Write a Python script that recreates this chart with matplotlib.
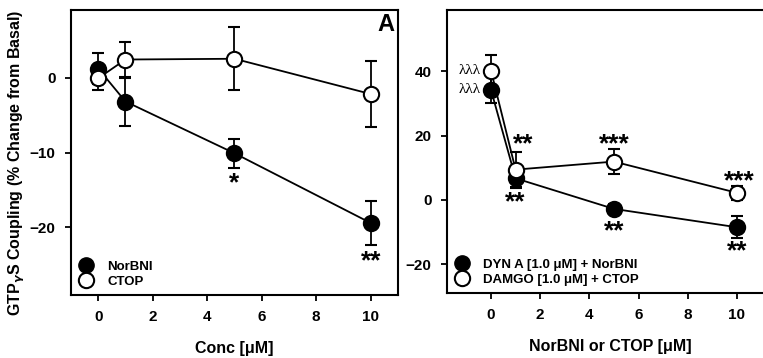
import matplotlib.pyplot as plt

plt.rcParams["font.family"] = ["Liberation Sans", "DejaVu Sans"]
plt.rcParams["font.weight"] = "bold"

# panel A
conc_a = [0, 1, 5, 10]
norbni_y = [1.2, -3.2, -10.1, -19.4]
norbni_err = [2.1, 3.2, 1.9, 2.9]
ctop_y = [-0.1, 2.4, 2.5, -2.2]
ctop_err = [1.6, 2.3, 4.2, 4.4]
stars_a = [(5, "*", -13.9), (10, "**", -24.2)]

# panel B
conc_b = [0, 1, 5, 10]
dyn_y = [34.2, 6.7, -2.8, -8.5]
dyn_err = [4.2, 2.7, 1.5, 3.5]
damgo_y = [40.2, 9.4, 11.9, 2.2]
damgo_err = [4.9, 5.6, 4.0, 2.2]
stars_b = [(1.3, "**", 17.9), (1, "**", 0.0), (5, "***", 17.9), (5, "**", -9.0),
           (10.1, "***", 6.5), (10, "**", -15.2)]

fig = plt.figure(figsize=(7.63, 3.58), dpi=100)
ax_a = fig.add_axes([0.093, 0.176, 0.4286, 0.796])
ax_b = fig.add_axes([0.5855, 0.181, 0.4286, 0.791])


def style(ax):
    for s in ax.spines.values():
        s.set_linewidth(1.5)
    ax.tick_params(direction="out", length=4, width=1.3, labelsize=11, pad=7)
    ax.tick_params(axis="x", top=False)
    ax.tick_params(axis="y", right=False)


def draw(ax, x, y1, e1, y2, e2):
    ax.errorbar(x, y1, yerr=e1, fmt="o-", color="black", mfc="black", mec="black",
                ms=11, mew=1.5, lw=1.3, elinewidth=1.3, capsize=4, capthick=1.3, zorder=3)
    ax.errorbar(x, y2, yerr=e2, fmt="o-", color="black", mfc="white", mec="black",
                ms=11, mew=1.5, lw=1.3, elinewidth=1.3, capsize=4, capthick=1.3, zorder=4)


def stars(ax, items):
    # asterisk glyph sits high in the em box: shift baseline down so its centre lands on y
    for xv, s, yv in items:
        ax.annotate(s, (xv, yv), xytext=(0, -6.5), textcoords="offset points",
                    ha="center", va="baseline", fontsize=19, fontweight="bold")


draw(ax_a, conc_a, norbni_y, norbni_err, ctop_y, ctop_err)
ax_a.set_xlim(-1, 11)
ax_a.set_ylim(-29, 9)
ax_a.set_xticks([0, 2, 4, 6, 8, 10])
ax_a.set_yticks([-20, -10, 0])
style(ax_a)
ax_a.set_xlabel("Conc [\u03bcM]", fontsize=11.5, fontweight="bold", labelpad=12)
ax_a.set_ylabel("GTP$_\\gamma$S Coupling (% Change from Basal)", fontsize=11.5,
                fontweight="bold")
ax_a.yaxis.set_label_coords(-0.135, 0.465)
stars(ax_a, stars_a)
ax_a.text(0.99, 0.95, "A", transform=ax_a.transAxes, ha="right", va="center",
          fontsize=17, fontweight="bold")
h1 = ax_a.plot([], [], "o", color="black", ms=11)[0]
h2 = ax_a.plot([], [], "o", mfc="white", mec="black", mew=1.5, ms=11)[0]
ax_a.legend([h1, h2], ["NorBNI", "CTOP"], loc="lower left", frameon=False,
            fontsize=9.5, handletextpad=1.0, borderaxespad=0.15, labelspacing=0.2,
            handlelength=1.2)

draw(ax_b, conc_b, dyn_y, dyn_err, damgo_y, damgo_err)
ax_b.set_xlim(-1.8, 11.5)
ax_b.set_ylim(-29, 59)
ax_b.set_xticks([0, 2, 4, 6, 8, 10])
ax_b.set_yticks([-20, 0, 20, 40])
style(ax_b)
ax_b.set_xlabel("NorBNI or CTOP [\u03bcM]", fontsize=11.5, fontweight="bold", labelpad=12)
stars(ax_b, stars_b)
ax_b.text(-0.42, damgo_y[0], "\u03bb\u03bb\u03bb", ha="right", va="center",
          fontsize=11, family="Liberation Serif", fontweight="normal")
ax_b.text(-0.42, dyn_y[0], "\u03bb\u03bb\u03bb", ha="right", va="center",
          fontsize=11, family="Liberation Serif", fontweight="normal")
ax_b.text(12.36, 52.5, "B", ha="left", va="center", fontsize=17, fontweight="bold")
g1 = ax_b.plot([], [], "o", color="black", ms=11)[0]
g2 = ax_b.plot([], [], "o", mfc="white", mec="black", mew=1.5, ms=11)[0]
ax_b.legend([g1, g2], ["DYN A [1.0 \u03bcM] + NorBNI", "DAMGO [1.0 \u03bcM] + CTOP"],
            loc="lower left", frameon=False, fontsize=9.5, handletextpad=1.0,
            borderaxespad=0.15, labelspacing=0.2, handlelength=1.2)

fig.savefig("out.png", dpi=100)
